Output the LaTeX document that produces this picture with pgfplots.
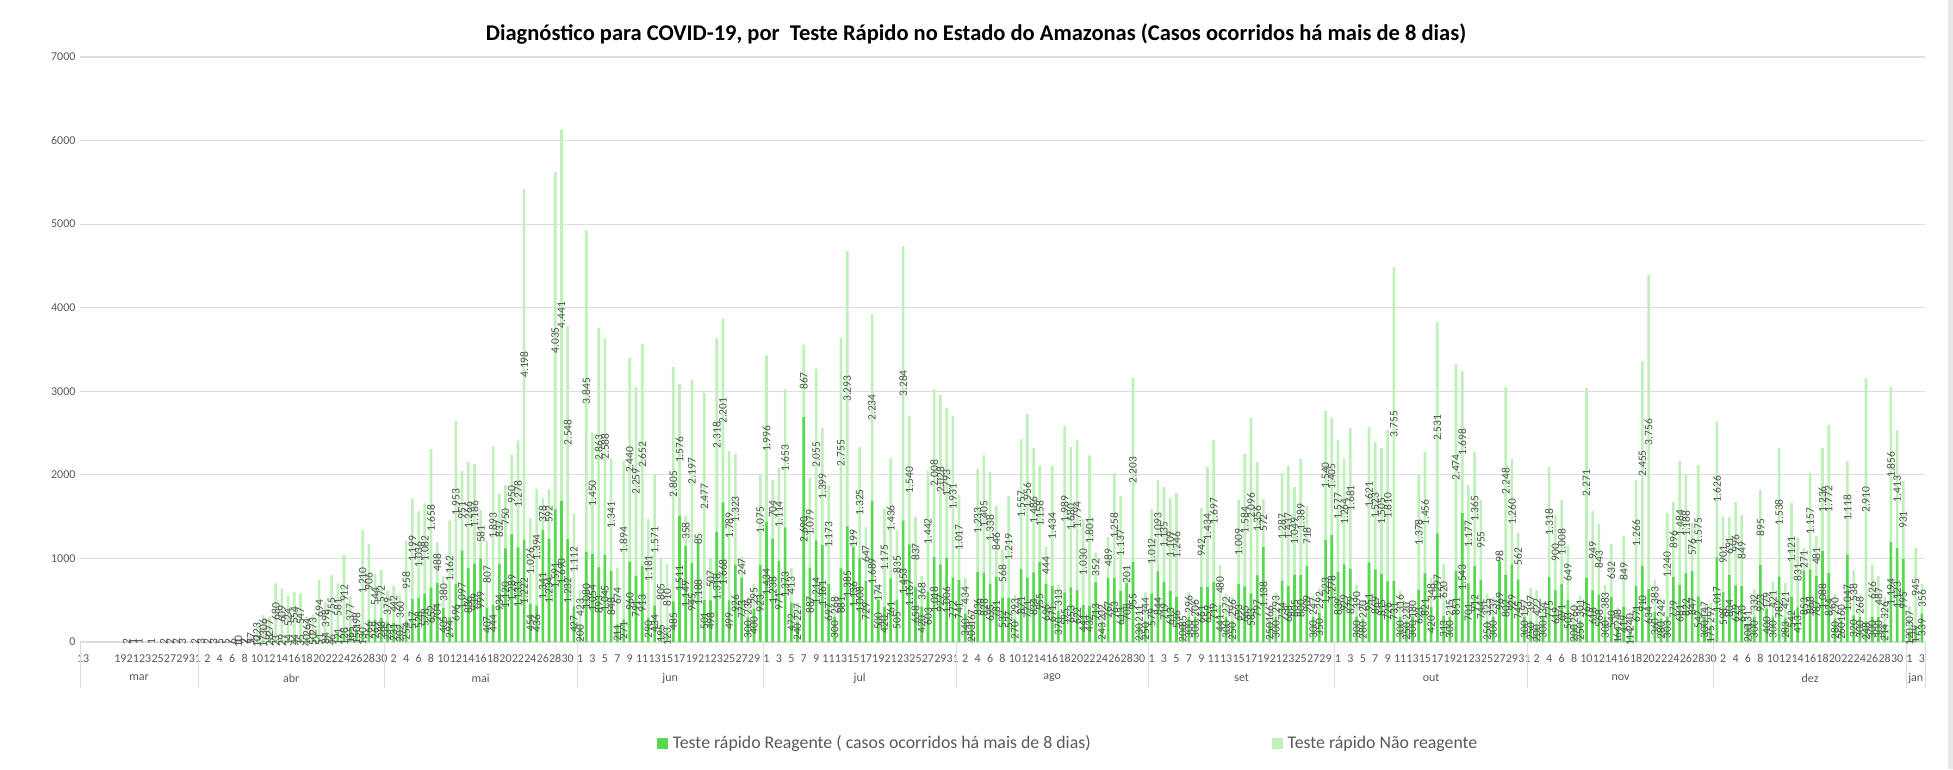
\documentclass[border=0pt]{standalone}
\usepackage{fontspec}
\setmainfont{Carlito}
\usepackage{pgfplots}
\usepackage{pgfplotstable}
\pgfplotsset{compat=1.18}
\definecolor{darkg}{HTML}{57D84F}
\definecolor{lightg}{HTML}{BDF1B8}
\definecolor{gridc}{HTML}{DDDDDD}
\definecolor{tickc}{HTML}{595959}
\definecolor{labc}{HTML}{505050}
\pgfplotstableread{
i d l
7 0 2
8 0 1
9 0 1
11 0 1
13 0 2
14 0 2
15 0 2
16 0 3
18 0 2
19 0 3
20 0 2
21 0 3
22 0 5
23 0 5
24 0 6
25 1 10
26 2 7
27 5 77
28 10 223
29 17 306
30 28 277
31 23 680
32 29 609
33 34 524
34 44 554
35 35 547
36 40 264
37 50 273
38 51 694
39 84 398
40 46 755
41 121 581
42 128 912
43 165 377
44 150 198
45 130 1210
46 266 906
47 269 544
48 288 572
49 235 379
50 231 442
51 202 360
52 254 958
53 517 1199
54 528 1036
55 578 1082
56 652 1658
57 704 488
58 405 380
59 294 1162
60 696 1953
61 1097 951
62 886 1266
63 939 1186
64 999 581
65 407 807
66 444 1893
67 934 837
68 1120 750
69 1289 950
70 1133 1278
71 1222 4198
72 454 1026
73 436 1394
74 1341 378
75 1234 592
76 1591 4035
77 1690 4441
78 1232 2548
79 427 1112
80 200 423
81 1080 3845
82 1054 1450
83 893 2863
84 1045 2588
85 848 1341
86 211 674
87 271 1894
88 960 2440
89 791 2259
90 913 2652
91 290 1181
92 434 1571
93 195 805
94 123 810
95 485 2805
96 1511 1576
97 1149 358
98 945 2197
99 1188 85
100 501 2477
101 498 507
102 1318 2318
103 1668 2201
104 499 1789
105 926 1323
106 773 247
107 300 236
108 400 295
109 923 1075
110 1434 1996
111 1238 704
112 971 1114
113 1373 1653
114 472 413
115 240 227
116 2690 867
117 887 1079
118 1214 2055
119 1161 1399
120 697 1173
121 300 268
122 881 2755
123 1385 3293
124 1136 199
125 1008 1325
126 729 647
127 1689 2234
128 500 174
129 420 1175
130 761 1436
131 505 835
132 1453 3284
133 1167 1540
134 658 837
135 420 368
136 603 1442
137 1018 2008
138 927 2028
139 1006 1793
140 772 1931
141 741 1017
142 340 434
143 203 167
144 836 1233
145 828 1405
146 695 1338
147 781 846
148 532 568
149 527 1219
150 270 293
151 871 1557
152 771 1956
153 834 1486
154 955 1158
155 696 444
156 671 1434
157 370 313
158 595 1989
159 653 1680
160 622 1794
161 441 1030
162 432 1801
163 713 352
164 243 202
165 767 489
166 763 1258
167 613 1137
168 708 201
169 955 2203
170 230 211
171 250 344
172 579 1012
173 844 1093
174 719 1135
175 613 1109
176 536 1246
177 200 85
178 300 296
179 300 206
180 661 942
181 659 1434
182 719 1697
183 441 480
184 300 272
185 250 296
186 693 1009
187 665 1584
188 583 2096
189 797 1356
190 1138 572
191 250 166
192 300 293
193 734 1287
194 668 1437
195 805 1049
196 800 1389
197 909 718
198 300 247
199 350 292
200 1223 1540
201 1278 1405
202 839 1577
203 929 1264
204 879 1681
205 300 390
206 280 220
207 951 1621
208 869 1523
209 815 1505
210 726 1810
211 731 3755
212 300 316
213 250 220
214 300 180
215 623 1378
216 821 1456
217 420 348
218 1297 2531
219 313 620
220 300 215
221 851 2474
222 1543 1698
223 701 1177
224 912 1365
225 744 955
226 250 325
227 300 237
228 969 98
229 802 2248
230 929 1260
231 745 562
232 300 197
233 250 397
234 200 422
235 300 134
236 775 1318
237 619 900
238 691 1008
239 503 649
240 200 260
241 250 301
242 767 2271
243 618 949
244 568 843
245 300 383
246 540 632
247 164 248
248 419 849
249 114 240
250 671 1266
251 910 2455
252 634 3756
253 360 383
254 280 242
255 303 1240
256 779 896
257 681 1484
258 822 1188
259 847 576
260 542 1575
261 300 147
262 175 297
263 1017 1626
264 598 901
265 804 691
266 679 996
267 670 849
268 200 131
269 300 332
270 923 895
271 400 179
272 300 421
273 782 1538
274 283 421
275 542 1121
276 413 831
277 853 271
278 868 1157
279 787 481
280 1088 1236
281 824 1772
282 280 290
283 260 160
284 1047 1118
285 320 538
286 300 268
287 248 2910
288 300 626
289 300 487
290 214 326
291 1194 1856
292 1123 1413
293 995 931
294 120 307
295 179 945
296 339 356
}\data
\tikzset{mon/.style={font=\fontsize{12}{12}\selectfont,text=tickc,yshift=-36pt}}
\begin{document}
\begin{tikzpicture}
\path[use as bounding box,fill=white] (0pt,0pt) rectangle (1953pt,769pt);
\fill[gray!18] (1948pt,0pt) rectangle (1953pt,769pt);
\begin{axis}[
  at={(80pt,127pt)},anchor=south west,
  scale only axis,width=1845pt,height=585pt,
  clip=false,
  xmin=-0.5,xmax=296.5,ymin=0,ymax=7000,
  ytick={0,1000,2000,3000,4000,5000,6000,7000},
  ymajorgrids,
  grid style={draw=gridc,line width=1.2pt},
  axis line style={draw=none},
  xtick pos=bottom,ytick pos=left,
  tick align=outside,
  major tick length=0pt,
  bar width=2.6pt,
  xtick={0,6,8,10,12,14,16,18,20,22,24,26,28,30,32,34,36,38,40,42,44,46,48,50,52,54,56,58,60,62,64,66,68,70,72,74,76,78,80,82,84,86,88,90,92,94,96,98,100,102,104,106,108,110,112,114,116,118,120,122,124,126,128,130,132,134,136,138,140,142,144,146,148,150,152,154,156,158,160,162,164,166,168,170,172,174,176,178,180,182,184,186,188,190,192,194,196,198,200,202,204,206,208,210,212,214,216,218,220,222,224,226,228,230,232,234,236,238,240,242,244,246,248,250,252,254,256,258,260,262,264,266,268,270,272,274,276,278,280,282,284,286,288,290,292,294,296},
  xticklabels={13,19,21,23,25,27,29,31,2,4,6,8,10,12,14,16,18,20,22,24,26,28,30,2,4,6,8,10,12,14,16,18,20,22,24,26,28,30,1,3,5,7,9,11,13,15,17,19,21,23,25,27,29,1,3,5,7,9,11,13,15,17,19,21,23,25,27,29,31,2,4,6,8,10,12,14,16,18,20,22,24,26,28,30,1,3,5,7,9,11,13,15,17,19,21,23,25,27,29,1,3,5,7,9,11,13,15,17,19,21,23,25,27,29,31,2,4,6,8,10,12,14,16,18,20,22,24,26,28,30,2,4,6,8,10,12,14,16,18,20,22,24,26,28,30,1,3},
  xticklabel style={font=\fontsize{12}{12}\selectfont,text=tickc,yshift=-9pt},
  yticklabel style={font=\fontsize{12}{12}\selectfont,text=tickc,/pgf/number format/assume math mode=true,/pgf/number format/1000 sep={},xshift=-1pt},
  extra x ticks={-0.5,18.5,48.5,79.5,109.5,140.5,171.5,201.5,232.5,262.5,293.5,296.5},
  extra x tick labels={},
  extra x tick style={major tick length=46pt,tick style={draw=gridc,line width=0.8pt},grid=none},
  legend columns=2,
  legend style={at={(0.3125,-0.173)},anchor=west,draw=none,fill=none,
    font=\fontsize{17.8}{18}\selectfont,text=tickc,inner sep=0pt,
    /tikz/every even column/.append style={column sep=176pt},
    nodes={inner xsep=5pt}},
  legend cell align=left,
  legend image code/.code={\fill[#1] (0pt,-5.5pt) rectangle (11pt,5.5pt);},
]
\addplot[ybar,/pgf/bar shift=0pt,fill=lightg,draw=none,forget plot]
  table[x=i,y expr=\thisrow{d}+\thisrow{l}] {\data};
\addplot[ybar,/pgf/bar shift=0pt,fill=darkg,draw=none,forget plot]
  table[x=i,y=d] {\data};
\addlegendimage{fill=darkg,draw=none}
\addlegendentry{Teste rápido Reagente ( casos ocorridos há mais de 8 dias)}
\addlegendimage{fill=lightg,draw=none}
\addlegendentry{Teste rápido Não reagente}
\addplot[draw=none,forget plot,point meta=explicit,nodes near coords,
  every node near coord/.append style={rotate=90,anchor=center,inner sep=0pt,text=labc,
    font=\fontsize{11.5}{12}\selectfont,
    /pgf/number format/fixed,/pgf/number format/precision=0,
    /pgf/number format/1000 sep={.},/pgf/number format/assume math mode=true}]
  table[x=i,y expr={\thisrow{d}>0 ? \thisrow{d}/2 : nan},meta=d] {\data};
\addplot[draw=none,forget plot,point meta=explicit,nodes near coords,
  every node near coord/.append style={rotate=90,anchor=center,inner sep=0pt,text=labc,
    font=\fontsize{11.5}{12}\selectfont,
    /pgf/number format/fixed,/pgf/number format/precision=0,
    /pgf/number format/1000 sep={.},/pgf/number format/assume math mode=true}]
  table[x=i,y expr=\thisrow{d}+\thisrow{l}/2,meta=l] {\data};
\node[mon] at (axis cs:9,0) {mar};
\node[mon] at (axis cs:33.5,0) {abr};
\node[mon] at (axis cs:64,0) {mai};
\node[mon] at (axis cs:94.5,0) {jun};
\node[mon] at (axis cs:125,0) {jul};
\node[mon] at (axis cs:156,0) {ago};
\node[mon] at (axis cs:186.5,0) {set};
\node[mon] at (axis cs:217,0) {out};
\node[mon] at (axis cs:247.5,0) {nov};
\node[mon] at (axis cs:278,0) {dez};
\node[mon] at (axis cs:295,0) {jan};
\end{axis}
\node[font=\bfseries\fontsize{22.5}{23}\selectfont,text=black] at (976pt,735pt)
  {Diagnóstico para COVID-19, por\ \ Teste Rápido no Estado do Amazonas (Casos ocorridos há mais de 8 dias)};
\end{tikzpicture}
\end{document}
